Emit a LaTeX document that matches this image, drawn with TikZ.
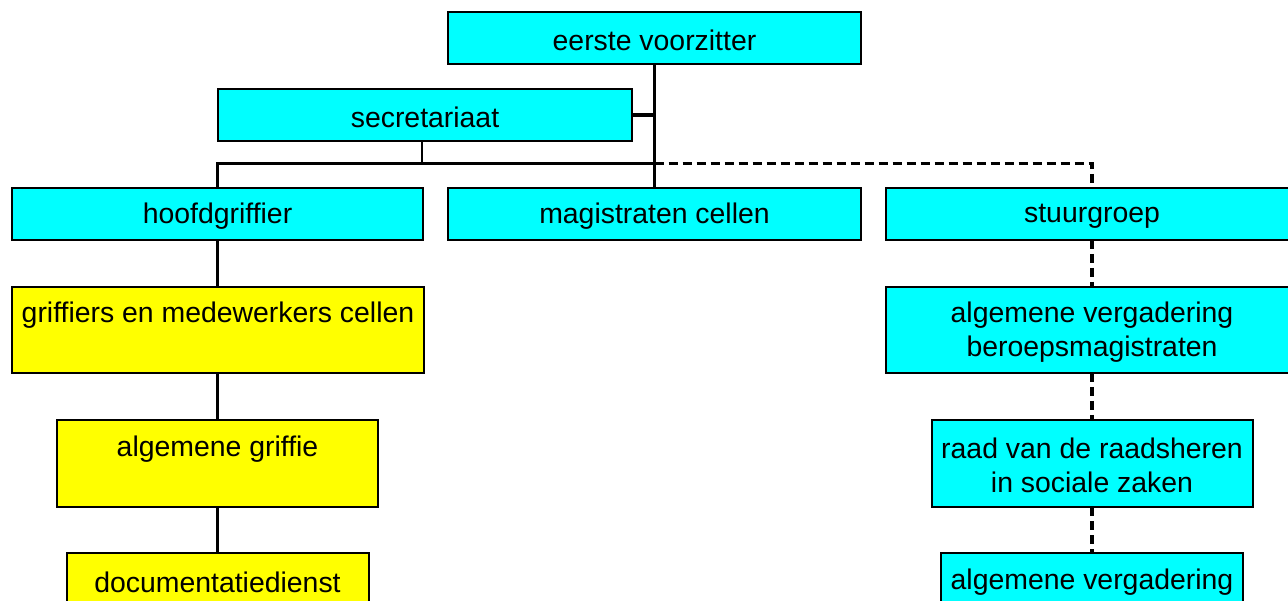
\documentclass[tikz,border=0pt]{standalone}
\usepackage{fontspec}
\setmainfont{Liberation Sans}
\definecolor{boxcyan}{RGB}{0,255,255}
\definecolor{boxyellow}{RGB}{255,255,0}
\begin{document}
\begin{tikzpicture}[x=1pt,y=-1pt,
  bx/.style={draw=black, line width=2pt, inner sep=0pt, outer sep=0pt, anchor=north west},
  cbox/.style={bx, fill=boxcyan},
  ybox/.style={bx, fill=boxyellow},
  lbl/.style={font=\fontsize{28.4}{34}\selectfont, inner sep=0pt, align=center},
  thickln/.style={line width=3.2pt},
  thinln/.style={line width=1.3pt},
  dashln/.style={line width=3.2pt, dash pattern=on 9pt off 5pt}]
\useasboundingbox (0,0) rectangle (1288,601);
\clip (0,0) rectangle (1288,601);
% boxes
\node[cbox, minimum width=413pt, minimum height=52pt] (ev) at (448,12) {};
\node[cbox, minimum width=414pt, minimum height=52pt] (sec) at (218,89) {};
\node[cbox, minimum width=411pt, minimum height=52pt] (hg) at (12,188) {};
\node[cbox, minimum width=413pt, minimum height=52pt] (mc) at (448,188) {};
\node[cbox, minimum width=412pt, minimum height=52pt] (sg) at (886,188) {};
\node[ybox, minimum width=412pt, minimum height=86pt] (gm) at (12,287) {};
\node[cbox, minimum width=412pt, minimum height=86pt] (avb) at (886,287) {};
\node[ybox, minimum width=321pt, minimum height=87pt] (ag) at (57,420) {};
\node[cbox, minimum width=321pt, minimum height=87pt] (rr) at (932,420) {};
\node[ybox, minimum width=302pt, minimum height=70pt] (dd) at (67,553) {};
\node[cbox, minimum width=302pt, minimum height=70pt] (av) at (941,553) {};
% texts
\node[lbl] (tev) at (654.5,40) {eerste voorzitter};
\node[lbl] (tsec) at (425,117) {secretariaat};
\node[lbl] (thg) at (217.5,216) {hoofdgriffier};
\node[lbl] (tmc) at (654.5,216) {magistraten cellen};
\node[lbl] (tsg) at (1092,216) {stuurgroep};
\node[lbl] (tgm) at (218,315) {griffiers en medewerkers cellen};
\node[lbl] (tavb) at (1092,332) {algemene vergadering\\beroepsmagistraten};
\node[lbl] (tag) at (217.5,449) {algemene griffie};
\node[lbl] (trr) at (1092,465) {raad van de raadsheren\\in sociale zaken};
\node[lbl] (tdd) at (217.5,582) {documentatiedienst};
\node[lbl] (tav) at (1092,582) {algemene vergadering};
% coordinates
\coordinate (j1) at (654.5,115);
\coordinate (j2) at (654.5,163.5);
\coordinate (bl) at (217.5,163.5);
\coordinate (sj) at (422,163.5);
\coordinate (dr) at (1092,163.5);
% connectors
\draw[thickln] (ev.south) -- (mc.north);
\draw[thickln] (sec.east) -- (j1);
\draw[thinln] (sec.south -| sj) -- (sj);
\draw[thickln] (bl |- hg.north) -- (bl) -- (j2);
\draw[dashln] (j2) -- (dr) -- (dr |- sg.north);
\draw[thickln] (bl |- hg.south) -- (bl |- gm.north);
\draw[thickln] (bl |- gm.south) -- (bl |- ag.north);
\draw[thickln] (bl |- ag.south) -- (bl |- dd.north);
\draw[dashln] (dr |- sg.south) -- (dr |- avb.north);
\draw[dashln] (dr |- avb.south) -- (dr |- rr.north);
\draw[dashln] (dr |- rr.south) -- (dr |- av.north);
\end{tikzpicture}
\end{document}
